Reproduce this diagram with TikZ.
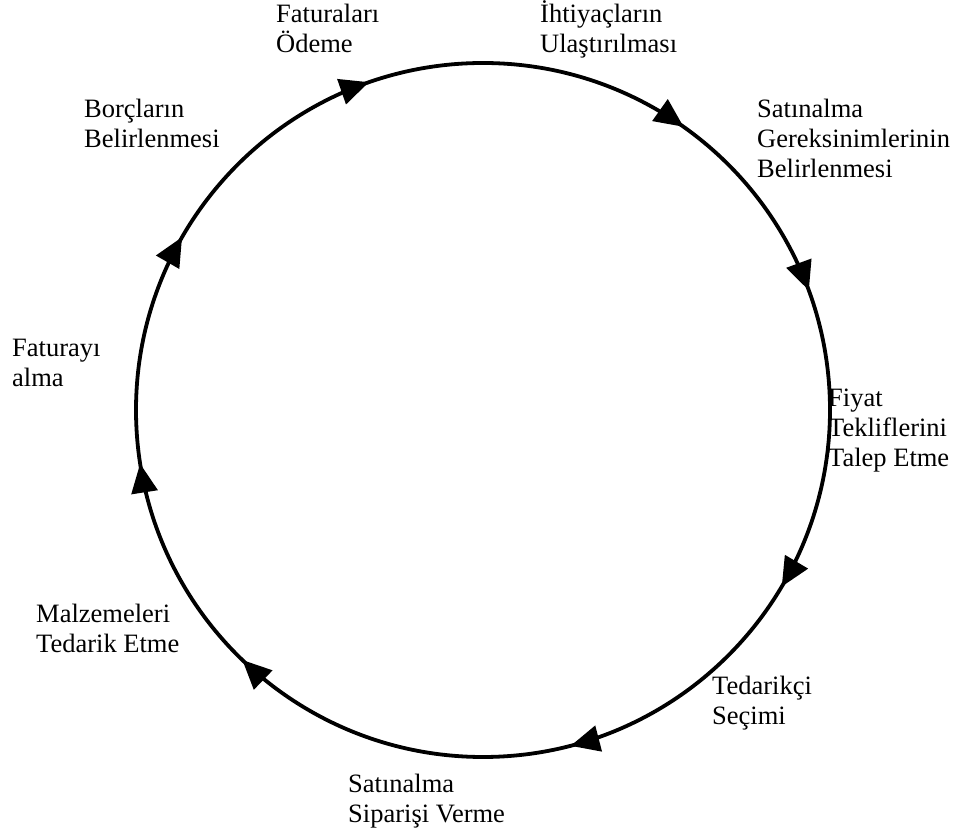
\documentclass[tikz,border=0pt]{standalone}
\usepackage{fontspec}
\setmainfont{Liberation Serif}
\usetikzlibrary{arrows.meta,decorations.markings}
\pgfkeys{/pgf/decoration/cyctip/.style={mark=at position #1 with {\arrow{Triangle[length=29pt,width=26pt]}}}}
\begin{document}
\begin{tikzpicture}[x=1pt,y=1pt,
  cycleline/.style={line width=3.8pt},
  lbl/.style={anchor=base west,inner sep=0pt,align=left,
    font=\fontsize{26.5}{30}\selectfont}]
\useasboundingbox (0,0) rectangle (962,836);
\coordinate (c) at (483,426);
% purchasing cycle, drawn clockwise with direction arrows
\draw[cycleline, postaction={decorate}, decoration={markings,
    cyctip=0.0850, cyctip=0.2094, cyctip=0.3720, cyctip=0.4753,
    cyctip=0.5830, cyctip=0.6967, cyctip=0.8481, cyctip=0.9440}]
  ([shift={(0:347)}]c) arc[start angle=360, end angle=0, radius=347];
% step labels (positions give the baseline of the last line)
\node[lbl] (odeme)    at (276,783) {Faturaları\\Ödeme};
\node[lbl] (ihtiyac)  at (540,783) {İhtiyaçların\\Ulaştırılması};
\node[lbl] (gerek)    at (757,658) {Satınalma\\Gereksinimlerinin\\Belirlenmesi};
\node[lbl] (fiyat)    at (828,369) {Fiyat\\Tekliflerini\\Talep Etme};
\node[lbl] (secim)    at (712,111) {Tedarikçi\\Seçimi};
\node[lbl] (siparis)  at (348,13)  {Satınalma\\Siparişi Verme};
\node[lbl] (tedarik)  at (36,183)  {Malzemeleri\\Tedarik Etme};
\node[lbl] (fatura)   at (12,449)  {Faturayı\\alma};
\node[lbl] (borc)     at (84,688)  {Borçların\\Belirlenmesi};
\end{tikzpicture}
\end{document}
